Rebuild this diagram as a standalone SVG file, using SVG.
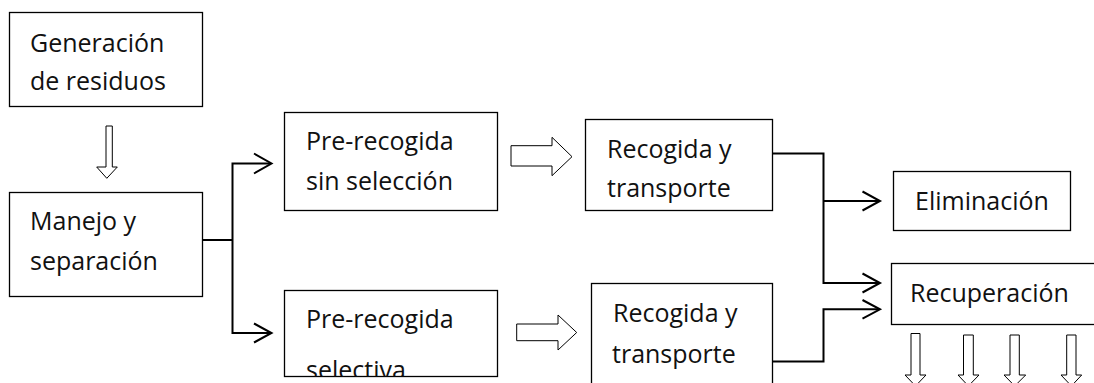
<svg xmlns="http://www.w3.org/2000/svg" width="1094" height="383" viewBox="0 0 1094 383">
<style>
.box{fill:#fff;stroke:#000;stroke-width:1.3}
.t{font-family:"Open Sans","Liberation Sans",sans-serif;font-size:25px;fill:#111}
.con{fill:none;stroke:#000;stroke-width:2}
.head{fill:none;stroke:#000;stroke-width:2;stroke-linejoin:miter}
.blk{fill:#fff;stroke:#000;stroke-width:1}
</style>
<defs>
<clipPath id="clipSel"><rect x="285" y="290" width="213" height="86.5"/></clipPath>
</defs>
<rect width="1094" height="383" fill="#fff"/>
<g id="n-generacion">
<rect class="box" x="9.5" y="12.5" width="193" height="94"/>
<text class="t" x="30" y="52">Generación</text>
<text class="t" x="30" y="90">de residuos</text>
</g>
<g id="n-manejo">
<rect class="box" x="9.5" y="192.5" width="193" height="104"/>
<text class="t" x="30" y="230">Manejo y</text>
<text class="t" x="30" y="270">separación</text>
</g>
<g id="n-pre-sin">
<rect class="box" x="284.5" y="112.5" width="213" height="98"/>
<text class="t" x="306" y="150">Pre-recogida</text>
<text class="t" x="306" y="190">sin selección</text>
</g>
<g id="n-pre-sel">
<rect class="box" x="284.5" y="290.5" width="213" height="86"/>
<g clip-path="url(#clipSel)">
<text class="t" x="306" y="328">Pre-recogida</text>
<text class="t" x="306" y="379">selectiva</text>
</g>
</g>
<g id="n-recogida1">
<rect class="box" x="585.5" y="119.5" width="187" height="91"/>
<text class="t" x="607" y="158">Recogida y</text>
<text class="t" x="607" y="197">transporte</text>
</g>
<g id="n-recogida2">
<rect class="box" x="591.5" y="283.5" width="181" height="110"/>
<text class="t" x="613" y="322">Recogida y</text>
<text class="t" x="612" y="363">transporte</text>
</g>
<g id="n-eliminacion">
<rect class="box" x="893.5" y="171.5" width="177" height="59"/>
<text class="t" x="915" y="210">Eliminación</text>
</g>
<g id="n-recuperacion">
<rect class="box" x="891.5" y="263.5" width="210" height="61"/>
<text class="t" x="910" y="302">Recuperación</text>
</g>
<g id="connectors">
<path class="con" d="M202.5 240H232.5V163.5H271M232.5 240V333H271"/>
<path class="head" d="M254 153.5L271.5 163.5L254 173.5M254 323.5L271.5 333L254 342.5"/>
<path class="con" d="M772.5 153.5H823.5V283H879M823.5 201H879M772.5 361.5H823.5V309.3H879"/>
<path class="head" d="M862.5 191.5L880 201L862.5 210.5M862.5 273.5L880 283L862.5 292.5M862.5 300L880 309.3L862.5 318.6"/>
<path class="blk" d="M106 126H112.3V167H117.3L106.8 178.3L96.7 167H106Z"/>
<path class="blk" d="M511 145.7H552V137.3L572 156.7L552 175.7V166H511Z"/>
<path class="blk" d="M516.7 324H558V315L576.7 332.5L558 350V340.7H516.7Z"/>
<path class="blk" d="M911 333.5H920V375H926L915.5 386L905 375H911Z"/>
<path class="blk" d="M963.5 335H973.3V375H979L968.4 386L958 375H963.5Z"/>
<path class="blk" d="M1010 335H1019.3V375H1025.7L1014.7 386L1004 375H1010Z"/>
<path class="blk" d="M1066.7 335H1076V375H1081.7L1071.4 386L1061 375H1066.7Z"/>
</g>
</svg>
